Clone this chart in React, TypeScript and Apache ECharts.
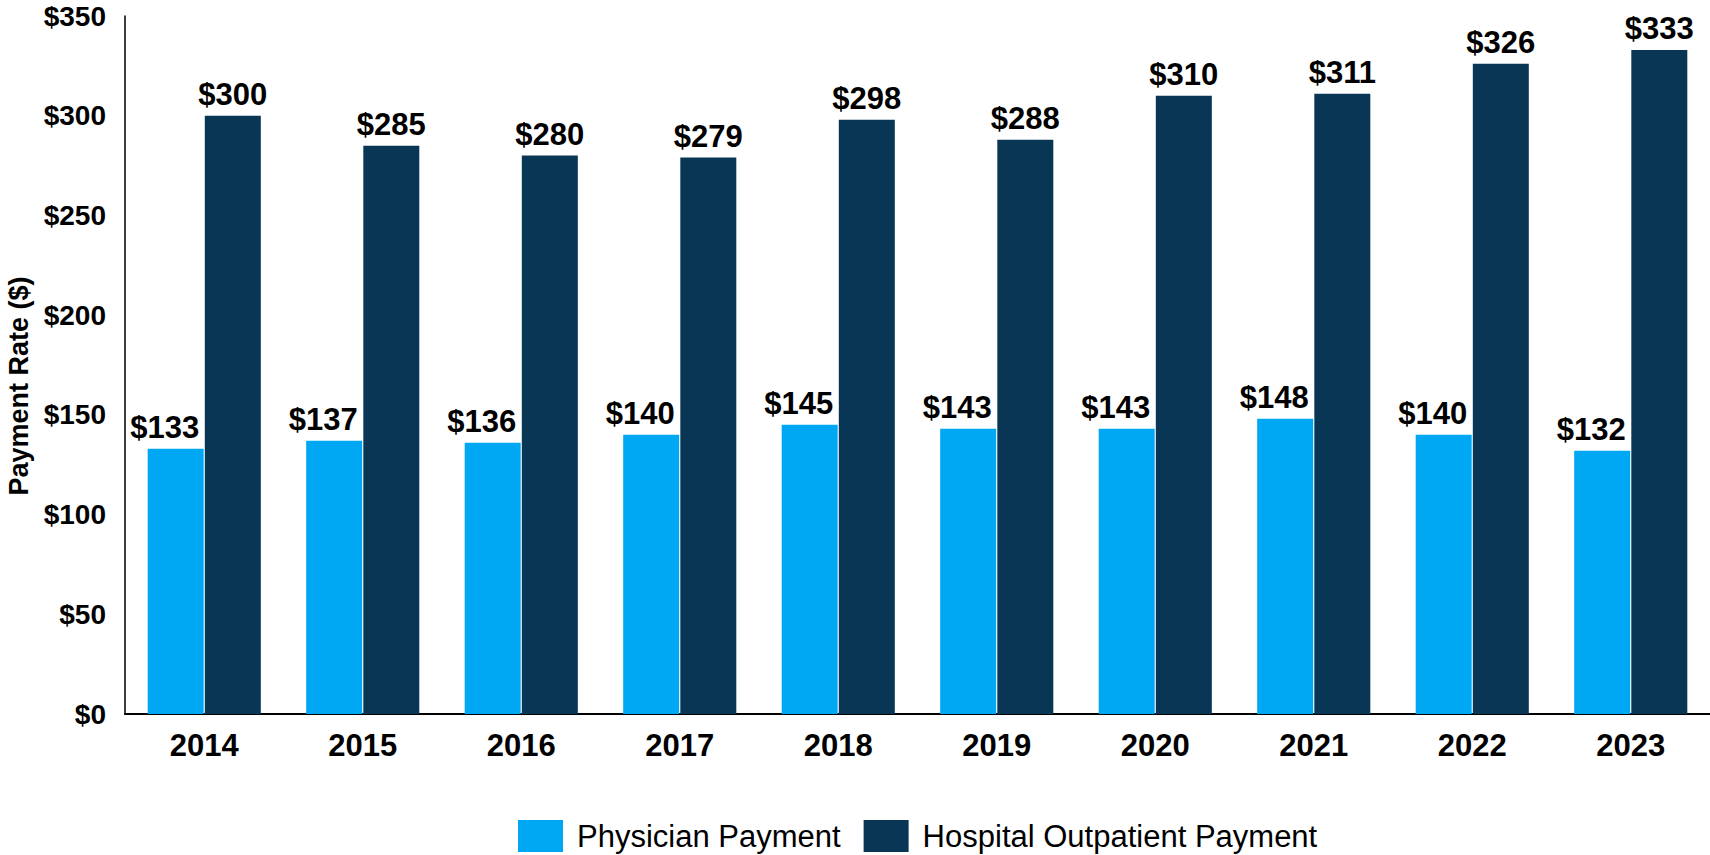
import React, { useEffect, useRef } from "react";
import * as echarts from "echarts";

const years = ["2014", "2015", "2016", "2017", "2018", "2019", "2020", "2021", "2022", "2023"];
const physician = [133, 137, 136, 140, 145, 143, 143, 148, 140, 132];
const hospital = [300, 285, 280, 279, 298, 288, 310, 311, 326, 333];
const seriesNames = ["Physician Payment", "Hospital Outpatient Payment"];
const yTicks = { min: 0, max: 350, interval: 50 };
const yAxisTitle = "Payment Rate ($)";

const FONT = '"Liberation Sans", Arial, Helvetica, sans-serif';
const LIGHT = "#00A8F3";
const DARK = "#0A3655";

export default function App() {
  const ref = useRef<HTMLDivElement>(null);
  useEffect(() => {
    if (!ref.current) return;
    const chart = echarts.init(ref.current, undefined, { renderer: "svg" });
    chart.setOption({
      animation: false,
      backgroundColor: "#ffffff",
      textStyle: { fontFamily: FONT },
      grid: { left: 125, right: -2, top: 16, bottom: 141, containLabel: false },
      legend: {
        left: 513,
        top: 815,
        itemWidth: 45,
        itemHeight: 32,
        itemGap: 23,
        icon: "rect",
        textStyle: { fontSize: 31, color: "#000", fontFamily: FONT, padding: [0, 0, 0, 9] },
        data: seriesNames,
      },
      xAxis: {
        type: "category",
        data: years,
        axisLine: { lineStyle: { color: "#000", width: 2 } },
        axisTick: { show: false },
        axisLabel: { fontSize: 31, fontWeight: "bold", color: "#000", margin: 16, fontFamily: FONT },
      },
      yAxis: {
        type: "value",
        min: yTicks.min,
        max: yTicks.max,
        interval: yTicks.interval,
        splitLine: { show: false },
        axisLine: { show: true, lineStyle: { color: "#000", width: 1.5 } },
        axisTick: { show: false },
        axisLabel: {
          fontSize: 28,
          fontWeight: "bold",
          color: "#000",
          margin: 19,
          fontFamily: FONT,
          formatter: (v: number) => "$" + v,
        },
      },
      graphic: [
        {
          type: "text",
          x: 19,
          y: 386,
          rotation: Math.PI / 2,
          style: {
            text: yAxisTitle,
            fontSize: 27,
            fontWeight: "bold",
            fontFamily: FONT,
            fill: "#000",
            align: "center",
            verticalAlign: "middle",
          },
        },
      ],
      series: [
        {
          name: seriesNames[0],
          type: "bar",
          data: physician,
          barWidth: 56,
          barGap: "2%",
          itemStyle: { color: LIGHT },
          label: {
            show: true,
            position: "top",
            distance: 6,
            offset: [-11, 0],
            fontSize: 31,
            fontWeight: "bold",
            color: "#000",
            fontFamily: FONT,
            formatter: (p: any) => "$" + p.value,
          },
        },
        {
          name: seriesNames[1],
          type: "bar",
          data: hospital,
          barWidth: 56,
          barGap: "2%",
          itemStyle: { color: DARK },
          label: {
            show: true,
            position: "top",
            distance: 6,
            fontSize: 31,
            fontWeight: "bold",
            color: "#000",
            fontFamily: FONT,
            formatter: (p: any) => "$" + p.value,
          },
        },
      ],
    });
    return () => chart.dispose();
  }, []);
  return (
    <div
      ref={ref}
      style={{ position: "fixed", left: 0, top: 0, width: 1710, height: 855, background: "#fff" }}
    />
  );
}
